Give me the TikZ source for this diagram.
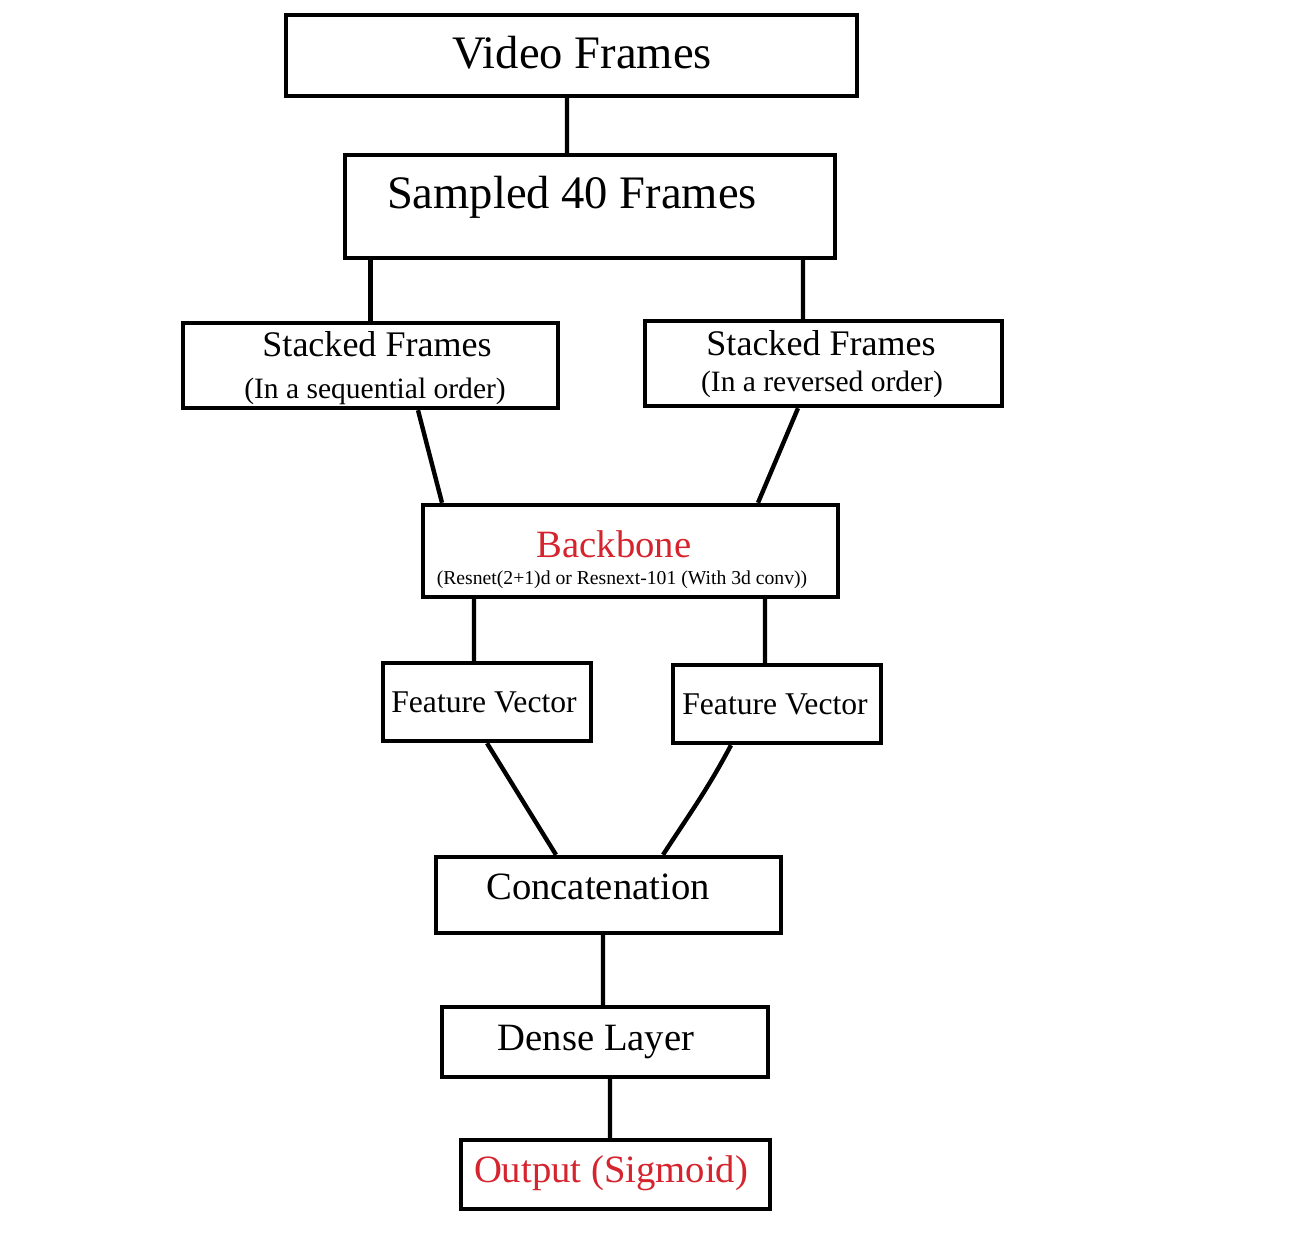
\documentclass[tikz,border=0pt]{standalone}
\usepackage{fontspec}
\setmainfont{Liberation Serif}
\definecolor{myred}{RGB}{214,36,46}
\usepackage{tikz}
\usetikzlibrary{calc}
\tikzset{
  bx/.style={draw=black, fill=white, line width=2.5pt, inner sep=0pt,
             minimum width=#1},
  ln/.style={line width=2.5pt, black},
  fXL/.style={font=\fontsize{26.5}{30}\selectfont, inner sep=0pt},
  fL/.style ={font=\fontsize{22}{26}\selectfont, inner sep=0pt},
  fM/.style ={font=\fontsize{20.5}{24}\selectfont, inner sep=0pt},
  fFV/.style={font=\fontsize{18}{21}\selectfont, inner sep=0pt},
  fS/.style ={font=\fontsize{16.8}{20}\selectfont, inner sep=0pt},
  fXS/.style={font=\fontsize{11.2}{13}\selectfont, inner sep=0pt},
}
\begin{document}
\begin{tikzpicture}
  \useasboundingbox (0,0) rectangle (25.9,-24.86);

  % ── INPUT ───────────────────────────────────────────────
  \node[bx=11.42cm, minimum height=1.62cm] (vf) at (11.43,-1.11) {};
  \node[fXL] (vft) at (11.64,-1.06) {Video Frames};
  \node[bx=9.8cm, minimum height=2.06cm] (sf) at (11.8,-4.13) {};
  \node[fXL] (sft) at (11.44,-3.94) {Sampled 40 Frames};
  \draw[ln] ([xshift=-0.09cm]vf.south) -- ([xshift=-0.46cm]sf.north);

  % ── STACKS ──────────────────────────────────────────────
  \node[bx=7.5cm, minimum height=1.7cm] (stl) at (7.41,-7.31) {};
  \node[fM] (stlt) at (7.54,-6.88) {Stacked Frames};
  \node[fS] (stls) at (7.5,-7.82) {(In a sequential order)};
  \node[bx=7.14cm, minimum height=1.7cm] (str) at (16.47,-7.27) {};
  \node[fM] (strt) at (16.42,-6.86) {Stacked Frames};
  \node[fS] (strs) at (16.44,-7.68) {(In a reversed order)};
  \draw[ln] (stl.north |- sf.south) -- (stl.north);
  \draw[ln] ([xshift=4.26cm]sf.south) -- ([xshift=-0.41cm]str.north);

  % ── BACKBONE ────────────────────────────────────────────
  \node[bx=8.3cm, minimum height=1.84cm] (bb) at (12.61,-11.02) {};
  \node[fL, myred] (bbt) at (12.28,-10.88) {Backbone};
  \node[fXS] (bbs) at (12.44,-11.6) {(Resnet(2+1)d or Resnext-101 (With 3d conv))};
  \draw[ln] ([xshift=0.95cm]stl.south) -- ([xshift=-3.77cm]bb.north);
  \draw[ln] ([xshift=-0.51cm]str.south) -- ([xshift=2.55cm]bb.north);

  % ── FEATURES ────────────────────────────────────────────
  \node[bx=4.16cm, minimum height=1.56cm] (fvl) at (9.74,-14.04) {};
  \node[fFV] (fvlt) at (9.68,-14.04) {Feature Vector};
  \node[bx=4.16cm, minimum height=1.56cm] (fvr) at (15.54,-14.08) {};
  \node[fFV] (fvrt) at (15.5,-14.08) {Feature Vector};
  \draw[ln] ([xshift=-3.13cm]bb.south) -- ([xshift=-0.26cm]fvl.north);
  \draw[ln] ([xshift=2.69cm]bb.south) -- ([xshift=-0.24cm]fvr.north);

  % ── HEAD ────────────────────────────────────────────────
  \node[bx=6.9cm, minimum height=1.52cm] (cc) at (12.17,-17.9) {};
  \node[fL] (cct) at (11.96,-17.74) {Concatenation};
  \draw[ln] (fvl.south) -- ([xshift=-1.05cm]cc.north);
  \draw[ln] ([xshift=-0.92cm]fvr.south) to[out=-118, in=57] ([xshift=1.09cm]cc.north);
  \node[bx=6.52cm, minimum height=1.4cm] (dl) at (12.1,-20.84) {};
  \node[fL] (dlt) at (11.92,-20.84) {Dense Layer};
  \draw[ln] ([xshift=-0.11cm]cc.south) -- ([xshift=-0.04cm]dl.north);
  \node[bx=6.18cm, minimum height=1.38cm] (out) at (12.31,-23.49) {};
  \node[fL, myred] (outt) at (12.22,-23.46) {Output (Sigmoid)};
  \draw[ln] ([xshift=0.1cm]dl.south) -- ([xshift=-0.11cm]out.north);
\end{tikzpicture}
\end{document}
